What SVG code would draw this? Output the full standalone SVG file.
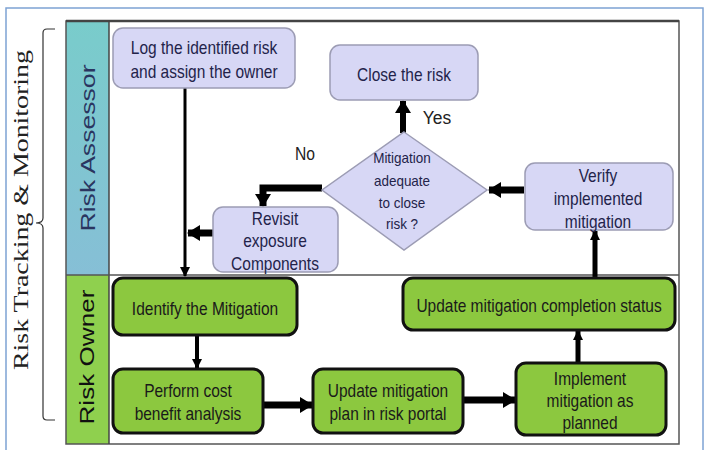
<svg xmlns="http://www.w3.org/2000/svg" width="709" height="450" viewBox="0 0 709 450">
<defs>
<style>
.lav{fill:#d7d7f5;stroke:#9c9cb4;stroke-width:1.5}
.grn{fill:#8cc83f;stroke:#111;stroke-width:3}
.t{font-family:"Liberation Sans",Arial,sans-serif;font-size:17.5px;text-anchor:middle}
.d{font-family:"Liberation Sans",Arial,sans-serif;font-size:15px;text-anchor:middle}
.tl{fill:#23234a}
.tg{fill:#1a1a1a}
.c{fill:none;stroke:#000}
</style>
<linearGradient id="teal" x1="0" y1="0" x2="0" y2="1">
<stop offset="0" stop-color="#79cccb"/>
<stop offset="1" stop-color="#86bfd6"/>
</linearGradient>
<marker id="ah" markerUnits="userSpaceOnUse" markerWidth="14" markerHeight="16" viewBox="0 0 14 16" refX="12" refY="8" orient="auto">
<path d="M0,0 L13,8 L0,16 z" fill="#000"/>
</marker>
<marker id="as" markerUnits="userSpaceOnUse" markerWidth="10" markerHeight="10" viewBox="0 0 10 10" refX="9" refY="5" orient="auto">
<path d="M0,0 L10,5 L0,10 z" fill="#000"/>
</marker>
</defs>
<rect x="0" y="0" width="709" height="450" fill="#fff"/>
<rect x="6" y="8" width="697" height="450" fill="#fff" stroke="#7ea3d4" stroke-width="1.5"/>

<g id="frame">
<rect x="66" y="21" width="43" height="254" fill="url(#teal)"/>
<rect x="66" y="275" width="43" height="169" fill="#8fd04e"/>
<rect x="66" y="21" width="613" height="423" fill="none" stroke="#555" stroke-width="1.5"/>
<line x1="66" y1="21" x2="679" y2="21" stroke="#444" stroke-width="2.5"/>
<line x1="109" y1="21" x2="109" y2="444" stroke="#444" stroke-width="1.5"/>
<line x1="66" y1="275" x2="679" y2="275" stroke="#555" stroke-width="1.5"/>
<text transform="translate(95,148) rotate(-90)" font-family="Liberation Sans,Arial,sans-serif" font-size="20" text-anchor="middle" fill="#2a3560" textLength="167" lengthAdjust="spacingAndGlyphs">Risk Assessor</text>
<text transform="translate(94,357) rotate(-90)" font-family="Liberation Sans,Arial,sans-serif" font-size="20" text-anchor="middle" fill="#111" textLength="135" lengthAdjust="spacingAndGlyphs">Risk Owner</text>
</g>

<g id="bracket">
<path d="M55,29 H47 Q43,29 43,33 V218 Q43,223 36,223 Q43,223 43,228 V416 Q43,420 47,420 H55" fill="none" stroke="#333" stroke-width="1.2"/>
<text transform="translate(28,210) rotate(-90)" font-family="Liberation Serif,Times New Roman,serif" font-size="21" text-anchor="middle" fill="#222" textLength="320" lengthAdjust="spacingAndGlyphs">Risk Tracking &amp; Monitoring</text>
</g>

<g id="connectors">
<line class="c" x1="185" y1="88" x2="185" y2="276" stroke-width="3" marker-end="url(#as)"/>
<line class="c" x1="197" y1="335" x2="197" y2="368" stroke-width="4" marker-end="url(#as)"/>
<line class="c" x1="263" y1="405" x2="312" y2="405" stroke-width="7" marker-end="url(#ah)"/>
<line class="c" x1="463" y1="400" x2="515" y2="400" stroke-width="7" marker-end="url(#ah)"/>
<line class="c" x1="578" y1="363" x2="578" y2="331" stroke-width="5" marker-end="url(#as)"/>
<line class="c" x1="595" y1="278" x2="595" y2="231" stroke-width="5" marker-end="url(#as)"/>
<line class="c" x1="524" y1="190" x2="489" y2="190" stroke-width="7" marker-end="url(#ah)"/>
<line class="c" x1="403" y1="133" x2="403" y2="101" stroke-width="6" marker-end="url(#ah)"/>
<path class="c" d="M322,188 H263 V206" stroke-width="7" marker-end="url(#ah)"/>
<line class="c" x1="213" y1="233" x2="188" y2="233" stroke-width="7" marker-end="url(#ah)"/>
<text transform="matrix(0.87,0,0,1,305,160)" font-family="Liberation Sans,Arial,sans-serif" font-size="18" text-anchor="middle" fill="#222">No</text>
<text transform="matrix(0.92,0,0,1,437,124)" font-family="Liberation Sans,Arial,sans-serif" font-size="19" text-anchor="middle" fill="#222">Yes</text>
</g>

<g id="log">
<rect class="lav" x="113" y="28" width="182" height="60" rx="10"/>
<g transform="matrix(0.885,0,0,1,204,0)">
<text class="t tl" x="0" y="54">Log the identified risk</text>
<text class="t tl" x="0" y="78">and assign the owner</text>
</g>
</g>

<g id="close">
<rect class="lav" x="330" y="45" width="148" height="55" rx="10"/>
<text class="t tl" transform="matrix(0.885,0,0,1,404,81)" x="0" y="0">Close the risk</text>
</g>

<g id="decision">
<polygon points="404,132 487,190 404,250 322,190" fill="#d7d7f5" stroke="#9c9cb4" stroke-width="1.5"/>
<g transform="matrix(0.9,0,0,1,402,0)">
<text class="d tl" x="0" y="163">Mitigation</text>
<text class="d tl" x="0" y="186">adequate</text>
<text class="d tl" x="0" y="208">to close</text>
<text class="d tl" x="0" y="229">risk ?</text>
</g>
</g>

<g id="revisit">
<rect class="lav" x="213" y="207" width="125" height="65" rx="10"/>
<g transform="matrix(0.885,0,0,1,275,0)">
<text class="t tl" x="0" y="225">Revisit</text>
<text class="t tl" x="0" y="247">exposure</text>
<text class="t tl" x="0" y="270">Components</text>
</g>
</g>

<g id="verify">
<rect class="lav" x="525" y="163" width="148" height="67" rx="10"/>
<g transform="matrix(0.885,0,0,1,598,0)">
<text class="t tl" x="0" y="182">Verify</text>
<text class="t tl" x="0" y="205">implemented</text>
<text class="t tl" x="0" y="228">mitigation</text>
</g>
</g>

<g id="identify">
<rect class="grn" x="113" y="278" width="184" height="57" rx="10"/>
<text class="t tg" transform="matrix(0.885,0,0,1,205,315)" x="0" y="0">Identify the Mitigation</text>
</g>

<g id="perform">
<rect class="grn" x="113" y="369" width="150" height="64" rx="10"/>
<g transform="matrix(0.885,0,0,1,188,0)">
<text class="t tg" x="0" y="397">Perform cost</text>
<text class="t tg" x="0" y="420">benefit analysis</text>
</g>
</g>

<g id="updateplan">
<rect class="grn" x="313" y="369" width="150" height="64" rx="10"/>
<g transform="matrix(0.885,0,0,1,388,0)">
<text class="t tg" x="0" y="397">Update mitigation</text>
<text class="t tg" x="0" y="420">plan in risk portal</text>
</g>
</g>

<g id="implement">
<rect class="grn" x="516" y="363" width="150" height="72" rx="10"/>
<g transform="matrix(0.885,0,0,1,590,0)">
<text class="t tg" x="0" y="385">Implement</text>
<text class="t tg" x="0" y="407">mitigation as</text>
<text class="t tg" x="0" y="429">planned</text>
</g>
</g>

<g id="updatestatus">
<rect class="grn" x="403" y="278" width="272" height="52" rx="10"/>
<text class="t tg" transform="matrix(0.885,0,0,1,539,312)" x="0" y="0">Update mitigation  completion status</text>
</g>
</svg>
